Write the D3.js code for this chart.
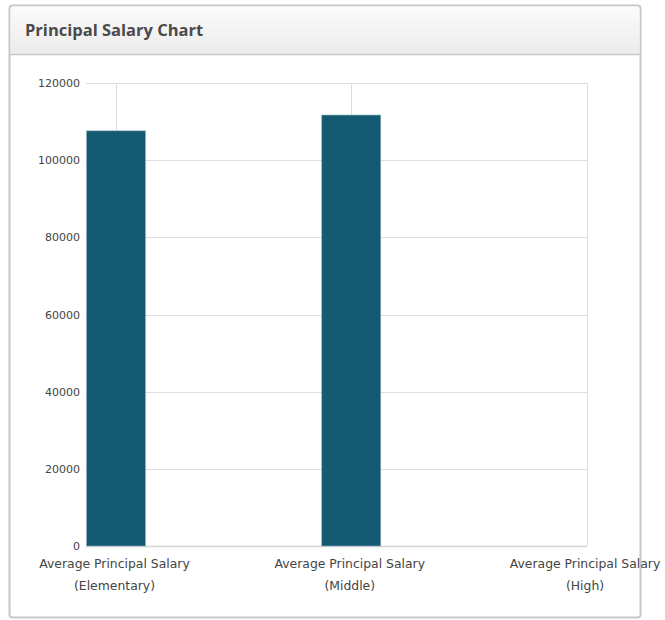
<!DOCTYPE html>
<html>
<head>
<meta charset="utf-8">
<script src="https://cdn.jsdelivr.net/npm/d3@7"></script>
<style>
  body { margin: 0; background: #fff; }
  text { font-family: "DejaVu Sans", Verdana, sans-serif; }
  text.title { font-family: "Open Sans", sans-serif; }
</style>
</head>
<body>
<svg id="mysvg" width="665" height="620"></svg>
<script>
// chart data
var categories = ["Average Principal Salary (Elementary)", "Average Principal Salary (Middle)", "Average Principal Salary (High)"];
var labelLines = [["Average Principal Salary", "(Elementary)"], ["Average Principal Salary", "(Middle)"], ["Average Principal Salary", "(High)"]];
var salaries = [107600, 111700, 0];
var yTicks = [0, 20000, 40000, 60000, 80000, 100000, 120000];

var svg = d3.select("#mysvg");

// panel + header
var defs = svg.append("defs");
var grad = defs.append("linearGradient").attr("id", "hdr").attr("x1", 0).attr("y1", 0).attr("x2", 0).attr("y2", 1);
grad.append("stop").attr("offset", "0%").attr("stop-color", "#fbfbfb");
grad.append("stop").attr("offset", "100%").attr("stop-color", "#ececec");

svg.append("rect").attr("x", 9.5).attr("y", 5.5).attr("width", 631).attr("height", 612)
  .attr("rx", 3).attr("fill", "#fff").attr("stroke", "#c8c8c8").attr("stroke-width", 2);
svg.append("path").attr("d", "M10.5,54 V9 Q10.5,6.5 13,6.5 H637 Q639.5,6.5 639.5,9 V54 Z")
  .attr("fill", "url(#hdr)");
svg.append("line").attr("x1", 10).attr("x2", 640).attr("y1", 54.5).attr("y2", 54.5)
  .attr("stroke", "#c8c8c8").attr("stroke-width", 1.5);
svg.append("text").attr("class", "title").attr("x", 25).attr("y", 36).text("Principal Salary Chart")
  .attr("font-size", 16.5).attr("font-weight", "bold").attr("fill", "#4a4a4a");

var margin = { top: 83, left: 86, right: 587, bottom: 546 };

var xScale = d3.scalePoint().domain(categories).range([116, 586.5]);
var yScale = d3.scaleLinear().domain([0, 120000]).range([margin.bottom, margin.top]);
var barW = 59;

var g = svg.append("g");

// horizontal grid
g.selectAll(".hgrid").data(yTicks).enter().append("line")
  .attr("x1", margin.left).attr("x2", margin.right)
  .attr("y1", function (d) { return Math.round(yScale(d)) + 0.5; })
  .attr("y2", function (d) { return Math.round(yScale(d)) + 0.5; })
  .attr("stroke", function (d) { return d == 0 ? "#d4d4d4" : "#dedede"; })
  .attr("stroke-width", function (d) { return d == 0 ? 1.5 : 1; });

// vertical grid at category centres
g.selectAll(".vgrid").data(categories).enter().append("line")
  .attr("x1", function (d) { return Math.round(xScale(d)) + 0.5; })
  .attr("x2", function (d) { return Math.round(xScale(d)) + 0.5; })
  .attr("y1", margin.top).attr("y2", margin.bottom)
  .attr("stroke", "#dedede");

// bars
g.selectAll(".bar").data(salaries).enter().append("rect")
  .attr("x", function (d, i) { return xScale(categories[i]) - barW / 2; })
  .attr("y", function (d) { return yScale(d); })
  .attr("width", barW)
  .attr("height", function (d) { return yScale(0) - yScale(d); })
  .attr("fill", "#135a72")
  .attr("stroke", function (d) { return d > 0 ? "#8fb0bc" : "none"; })
  .attr("stroke-width", 0.6);

// y axis labels
g.selectAll(".ylab").data(yTicks).enter().append("text")
  .attr("x", 80).attr("y", function (d) { return yScale(d) + 4; })
  .attr("text-anchor", "end").attr("font-size", 11).attr("fill", "#444")
  .text(function (d) { return d; });

// x axis labels
var xl = g.selectAll(".xlab").data(labelLines).enter().append("text")
  .attr("text-anchor", "middle").attr("font-size", 12.4).attr("fill", "#444");
xl.each(function (lines, i) {
  var t = d3.select(this);
  lines.forEach(function (s, k) {
    t.append("tspan").attr("x", xScale(categories[i]) - 1.5).attr("y", 568 + k * 22).text(s);
  });
});
</script>
</body>
</html>
